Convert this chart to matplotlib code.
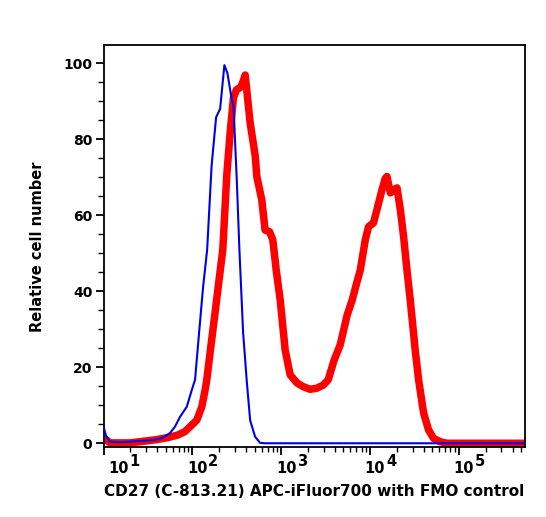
import numpy as np
import matplotlib
matplotlib.use("Agg")
import matplotlib.pyplot as plt
from matplotlib.ticker import LogLocator, MultipleLocator, NullFormatter

# ---- data (x as log10 of fluorescence intensity, y as relative cell number) ----
fmo_log = [1.0, 1.028, 1.073, 1.186, 1.298, 1.41, 1.524, 1.58, 1.67, 1.749, 1.805,
           1.862, 1.937, 1.993, 2.03, 2.075, 2.12, 2.166, 2.216, 2.267, 2.312,
           2.36, 2.394, 2.444, 2.462, 2.5, 2.529, 2.571, 2.613, 2.65, 2.706,
           2.762, 2.818, 5.742]
fmo_val = [4.4, 2.0, 0.4, 0.3, 0.4, 0.6, 0.8, 0.9, 1.5, 2.7, 4.4,
           7.0, 9.6, 14.0, 16.7, 29.0, 41.0, 50.9, 73.0, 85.8, 88.0,
           99.5, 97.4, 90.3, 89.0, 69.0, 50.9, 29.0, 16.0, 6.0, 1.7,
           0.1, 0.0, 0.0]

cd27_log = [1.006, 1.073, 1.298, 1.58, 1.726, 1.839, 1.918, 1.993, 2.05, 2.106,
            2.143, 2.162, 2.207, 2.252, 2.297, 2.342, 2.387, 2.425, 2.462, 2.495,
            2.537, 2.56, 2.594, 2.65, 2.706, 2.725, 2.781, 2.818, 2.867, 2.905,
            2.943, 2.988, 3.044, 3.1, 3.176, 3.246, 3.325, 3.4, 3.471, 3.528,
            3.595, 3.663, 3.742, 3.798, 3.843, 3.889, 3.945, 3.982, 4.038, 4.095,
            4.133, 4.17, 4.189, 4.227, 4.264, 4.302, 4.34, 4.376, 4.414, 4.451,
            4.507, 4.545, 4.601, 4.657, 4.713, 4.789, 4.865, 5.742]
cd27_val = [1.4, 0.1, 0.1, 0.9, 1.5, 2.2, 3.1, 4.8, 6.1, 9.6,
            14.0, 16.7, 25.3, 33.8, 42.4, 50.9, 70.6, 81.7, 90.9, 93.0,
            93.6, 94.5, 96.9, 84.3, 75.8, 70.2, 64.0, 56.1, 55.7, 53.5,
            45.6, 37.7, 24.5, 18.0, 15.9, 14.9, 14.2, 14.5, 15.3, 16.7,
            21.9, 25.9, 33.8, 37.7, 41.7, 45.6, 53.5, 57.0, 58.0, 63.2,
            66.7, 69.7, 70.2, 65.9, 66.7, 67.2, 61.4, 54.4, 45.6, 37.7,
            24.5, 16.7, 8.0, 3.5, 1.3, 0.4, 0.0, 0.0]

decades = [1, 2, 3, 4, 5]
y_ticks = [0, 20, 40, 60, 80, 100]
x_label = "CD27 (C-813.21) APC-iFluor700 with FMO control"
y_label = "Relative cell number"

plt.rcParams['font.family'] = ['DejaVu Sans']
plt.rcParams['font.weight'] = 'bold'

W, H = 546, 517
fig = plt.figure(figsize=(W / 100, H / 100), dpi=100)
ax = fig.add_axes([103.5 / W, 1 - 446.5 / H, (525 - 103.5) / W, (446.5 - 45) / H])

ax.plot(np.power(10.0, cd27_log), cd27_val, color='#ff0000', lw=5.4,
        solid_joinstyle='round', solid_capstyle='butt', zorder=2)
ax.plot(np.power(10.0, fmo_log), fmo_val, color='#0000e6', lw=1.5,
        solid_joinstyle='round', zorder=3)

ax.set_xscale('log')
ax.set_xlim(10, 10 ** 5.742)
ax.set_ylim(-0.85, 104.8)

for s in ax.spines.values():
    s.set_linewidth(1.3)

ax.set_yticks(y_ticks)
ax.yaxis.set_minor_locator(MultipleLocator(5))
ax.tick_params(axis='y', which='major', direction='out', length=6, width=1.3,
               pad=2, labelsize=10)
ax.tick_params(axis='y', which='minor', direction='out', length=4, width=1.0)
for lab in ax.get_yticklabels():
    lab.set_fontweight('bold')

ax.set_xticks([10.0 ** d for d in decades])
ax.xaxis.set_minor_locator(LogLocator(base=10, subs=np.arange(2, 10), numticks=20))
ax.xaxis.set_minor_formatter(NullFormatter())
ax.set_xticklabels([])
ax.tick_params(axis='x', which='major', direction='out', length=6, width=1.3)
ax.tick_params(axis='x', which='minor', direction='out', length=3.5, width=1.0)

for d in decades:
    dx = 10.5 if d == 1 else 3.5
    ax.annotate('10', xy=(10.0 ** d, 0), xycoords=('data', 'axes fraction'),
                xytext=(dx, -10.5), textcoords='offset points',
                ha='center', va='top', fontsize=10.5, fontweight='bold')
    ax.annotate(str(d), xy=(10.0 ** d, 0), xycoords=('data', 'axes fraction'),
                xytext=(dx + 8.0, -5.5), textcoords='offset points',
                ha='left', va='top', fontsize=10.5, fontweight='bold')

fig.text((103.5 + 525) / 2 / W, 1 - 491.5 / H, x_label, ha='center', va='center',
         fontsize=11, fontweight='bold')
fig.text(38 / W, 1 - 247 / H, y_label, ha='center', va='center', rotation=90,
         fontsize=10.5, fontweight='bold')

fig.savefig('out.png', dpi=100)
